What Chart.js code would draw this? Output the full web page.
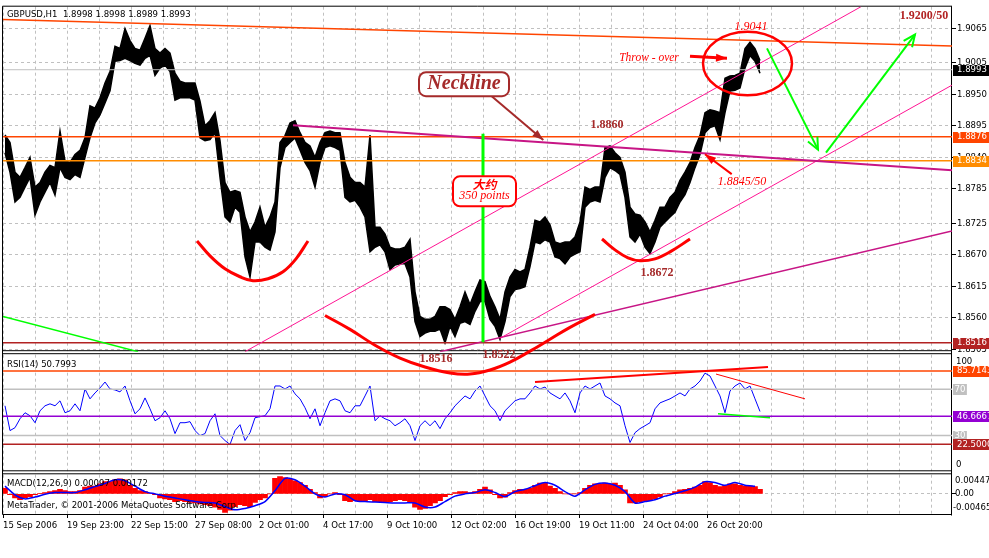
<!DOCTYPE html>
<html>
<head>
<meta charset="utf-8">
<script src="https://cdn.jsdelivr.net/npm/chart.js@4.4.0/dist/chart.umd.min.js"></script>
<style>
  html, body { margin: 0; padding: 0; background: #fff; }
  canvas { display: block; }
</style>
</head>
<body>
<canvas id="chart" width="989" height="558"></canvas>
<script>
'use strict';

// ── Data (GBPUSD H1, sampled every 5 bars) ────────────────────────────────────

const BAR_STEP = 5;
const FIRST_BAR = 2;

const priceHigh = [
  1.8879, 1.8866, 1.8814, 1.8805, 1.8822, 1.8840, 1.8788, 1.8796, 1.8814, 1.8826,
  1.8822, 1.8886, 1.8834, 1.8831, 1.8845, 1.8852, 1.8874, 1.8930, 1.8926, 1.8944,
  1.8970, 1.8990, 1.9034, 1.9030, 1.9065, 1.9044, 1.9030, 1.9027, 1.9048, 1.9070,
  1.9030, 1.9022, 1.9030, 1.9022, 1.8987, 1.8973, 1.8970, 1.8970, 1.8970, 1.8938,
  1.8895, 1.8904, 1.8918, 1.8869, 1.8796, 1.8779, 1.8782, 1.8779, 1.8736, 1.8710,
  1.8727, 1.8753, 1.8718, 1.8736, 1.8762, 1.8866, 1.8878, 1.8900, 1.8904, 1.8883,
  1.8866, 1.8860, 1.8840, 1.8866, 1.8883, 1.8886, 1.8883, 1.8883, 1.8831, 1.8805,
  1.8796, 1.8796, 1.8788, 1.8879, 1.8718, 1.8718, 1.8706, 1.8683, 1.8680, 1.8680,
  1.8683, 1.8697, 1.8605, 1.8562, 1.8557, 1.8557, 1.8562, 1.8579, 1.8579, 1.8574,
  1.8557, 1.8579, 1.8605, 1.8583, 1.8605, 1.8626, 1.8623, 1.8597, 1.8579, 1.8557,
  1.8605, 1.8631, 1.8644, 1.8640, 1.8644, 1.8683, 1.8730, 1.8727, 1.8736, 1.8722,
  1.8692, 1.8689, 1.8692, 1.8692, 1.8701, 1.8727, 1.8788, 1.8784, 1.8788, 1.8788,
  1.8857, 1.8860, 1.8848, 1.8840, 1.8814, 1.8753, 1.8741, 1.8739, 1.8727, 1.8710,
  1.8730, 1.8753, 1.8753, 1.8770, 1.8779, 1.8800, 1.8814, 1.8831, 1.8857, 1.8878,
  1.8918, 1.8923, 1.8921, 1.8918, 1.8978, 1.8982, 1.8983, 1.8987, 1.9030, 1.9041,
  1.9030, 1.9009,
];

const priceLow = [
  1.8848, 1.8814, 1.8762, 1.8770, 1.8788, 1.8805, 1.8739, 1.8762, 1.8779, 1.8796,
  1.8774, 1.8822, 1.8805, 1.8801, 1.8810, 1.8805, 1.8840, 1.8874, 1.8900, 1.8914,
  1.8935, 1.8956, 1.9008, 1.9009, 1.9013, 1.9009, 1.9004, 1.9001, 1.9013, 1.9018,
  1.8983, 1.8996, 1.9001, 1.8990, 1.8940, 1.8944, 1.8944, 1.8944, 1.8940, 1.8874,
  1.8869, 1.8871, 1.8883, 1.8805, 1.8736, 1.8727, 1.8753, 1.8744, 1.8666, 1.8631,
  1.8692, 1.8692, 1.8683, 1.8678, 1.8710, 1.8822, 1.8857, 1.8866, 1.8874, 1.8853,
  1.8831, 1.8817, 1.8788, 1.8831, 1.8857, 1.8860, 1.8857, 1.8852, 1.8770, 1.8762,
  1.8765, 1.8753, 1.8736, 1.8675, 1.8683, 1.8687, 1.8675, 1.8644, 1.8652, 1.8654,
  1.8654, 1.8631, 1.8553, 1.8527, 1.8533, 1.8536, 1.8536, 1.8540, 1.8516, 1.8545,
  1.8527, 1.8550, 1.8553, 1.8548, 1.8571, 1.8588, 1.8588, 1.8557, 1.8545, 1.8522,
  1.8553, 1.8597, 1.8609, 1.8611, 1.8614, 1.8649, 1.8692, 1.8689, 1.8696, 1.8692,
  1.8666, 1.8663, 1.8654, 1.8666, 1.8671, 1.8675, 1.8753, 1.8762, 1.8765, 1.8762,
  1.8805, 1.8822, 1.8817, 1.8810, 1.8770, 1.8701, 1.8692, 1.8706, 1.8683, 1.8672,
  1.8692, 1.8718, 1.8727, 1.8736, 1.8744, 1.8762, 1.8775, 1.8796, 1.8822, 1.8845,
  1.8883, 1.8892, 1.8895, 1.8871, 1.8918, 1.8956, 1.8957, 1.8961, 1.8996, 1.9018,
  1.9008, 1.8987,
];

const rsiValues = [
  55.7, 34.3, 36.8, 44.5, 49.7, 47.1, 41.1, 51.4, 55.7, 57.4,
  55.7, 60.0, 49.7, 51.4, 57.4, 51.4, 70.2, 61.7, 66.8, 71.1,
  76.2, 70.2, 69.4, 67.7, 72.8, 60.0, 48.8, 53.1, 62.5, 53.1,
  42.8, 45.4, 51.4, 44.5, 31.7, 41.1, 41.1, 42.0, 34.3, 30.0,
  31.7, 42.8, 48.8, 30.0, 25.7, 22.3, 34.3, 39.4, 25.7, 32.5,
  45.4, 46.3, 47.1, 53.1, 72.8, 72.8, 70.2, 72.8, 66.0, 61.7,
  54.0, 44.5, 53.1, 38.5, 49.7, 60.0, 61.7, 60.0, 51.4, 49.7,
  55.7, 55.7, 64.2, 72.8, 42.8, 47.1, 44.5, 42.8, 38.5, 41.1,
  44.5, 38.5, 25.7, 38.5, 42.8, 38.5, 42.8, 36.0, 44.5, 49.7,
  55.7, 60.0, 64.2, 61.7, 68.5, 72.8, 64.2, 55.7, 51.4, 42.8,
  51.4, 55.7, 60.0, 61.7, 61.7, 66.8, 72.8, 70.2, 71.9, 66.8,
  64.2, 61.7, 66.8, 60.0, 49.7, 66.8, 72.8, 70.2, 72.8, 75.4,
  64.2, 61.7, 58.2, 55.7, 38.5, 24.0, 32.5, 36.0, 38.5, 41.1,
  53.1, 58.2, 60.0, 61.7, 64.2, 66.8, 64.2, 70.2, 72.8, 77.1,
  83.9, 81.4, 72.8, 64.2, 49.7, 68.5, 72.8, 75.4, 70.2, 72.8,
  61.7, 50.8,
];

const macdHist = [
  0.0012, -0.0002, -0.0009, -0.0013, -0.0009, -0.0006, -0.0002, 0.0001, 0.0003, 0.0005,
  0.0007, 0.0010, 0.0007, 0.0005, 0.0005, 0.0007, 0.0015, 0.0017, 0.0017, 0.0022,
  0.0027, 0.0027, 0.0031, 0.0033, 0.0031, 0.0019, 0.0012, 0.0007, 0.0005, 0.0001,
  -0.0002, -0.0009, -0.0011, -0.0013, -0.0017, -0.0015, -0.0017, -0.0019, -0.0020, -0.0022,
  -0.0024, -0.0026, -0.0029, -0.0034, -0.0041, -0.0036, -0.0028, -0.0024, -0.0026, -0.0028,
  -0.0019, -0.0013, -0.0009, 0, 0.0034, 0.0038, 0.0036, 0.0032, 0.0029, 0.0025,
  0.0019, 0.0010, 0.0003, -0.0009, -0.0006, 0, 0.0003, -0.0002, -0.0015, -0.0017,
  -0.0015, -0.0017, -0.0017, -0.0013, -0.0017, -0.0017, -0.0017, -0.0017, -0.0015, -0.0013,
  -0.0015, -0.0017, -0.0029, -0.0034, -0.0032, -0.0026, -0.0020, -0.0015, -0.0006, -0.0002,
  0.0003, 0.0005, 0.0005, 0.0003, 0.0005, 0.0010, 0.0015, 0.0009, -0.0002, -0.0009,
  -0.0007, 0.0003, 0.0007, 0.0010, 0.0010, 0.0012, 0.0019, 0.0024, 0.0024, 0.0017,
  0.0012, 0.0005, 0, 0, 0, 0.0003, 0.0012, 0.0019, 0.0022, 0.0022,
  0.0024, 0.0022, 0.0024, 0.0019, 0.0009, -0.0020, -0.0020, -0.0017, -0.0015, -0.0015,
  -0.0011, -0.0006, 0, 0.0001, 0.0005, 0.0009, 0.0010, 0.0012, 0.0015, 0.0019,
  0.0027, 0.0025, 0.0019, 0.0016, 0.0019, 0.0022, 0.0022, 0.0019, 0.0017, 0.0017,
  0.0016, 0.0010,
];

// signal line, one value every 10 bars
const SIGNAL_STEP = 10;
const macdSignal = [
  0.0017, -0.0002, -0.0011, -0.0007, -0.0001, 0.0003, 0.0003, 0.0003, 0.0009, 0.0016,
  0.0023, 0.0031, 0.0029, 0.0017, 0.0005, 0, -0.0005, -0.0009, -0.0013, -0.0017,
  -0.0019, -0.0020, -0.0028, -0.0035, -0.0032, -0.0026, -0.0017, 0.0007, 0.0034, 0.0031,
  0.0017, 0, -0.0007, 0, -0.0002, -0.0015, -0.0017, -0.0018, -0.0019, -0.0020,
  -0.0020, -0.0020, -0.0029, -0.0029, -0.0017, -0.0005, 0, 0.0003, 0.0009, 0.0003,
  -0.0006, 0.0005, 0.0010, 0.0018, 0.0025, 0.0019, 0.0005, -0.0005, 0.0009, 0.0021,
  0.0024, 0.0019, 0.0005, -0.0020, -0.0017, -0.0013, -0.0005, 0.0001, 0.0007, 0.0015,
  0.0027, 0.0025, 0.0019, 0.0025, 0.0019, 0.0017,
];

const priceTicks = [1.9065, 1.9005, 1.8950, 1.8895, 1.8840, 1.8785, 1.8725, 1.8670, 1.8615, 1.8560, 1.8505];
const timeLabels = [
  '15 Sep 2006', '19 Sep 23:00', '22 Sep 15:00', '27 Sep 08:00', '2 Oct 01:00', '4 Oct 17:00',
  '9 Oct 10:00', '12 Oct 02:00', '16 Oct 19:00', '19 Oct 11:00', '24 Oct 04:00', '26 Oct 20:00',
];
const GRID_BARS = 32;
const LABEL_BARS = 64;
const LAST_BAR = 949;

const priceLevels = [1.8993, 1.8876, 1.8834, 1.8516];
const priceLevelColors = ['#c0c0c0', '#ff4500', '#ff8c00', '#b22222'];
const priceTagColors = ['#000000', '#ff4500', '#ff8c00', '#b22222'];

const rsiLevels = [85.7143, 70, 46.6667, 30, 22.5];
const rsiLevelColors = ['#ff4500', '#c0c0c0', '#9400d3', '#c0c0c0', '#b22222'];
const rsiLevelText = ['85.7143', '70', '46.6667', '30', '22.5000'];

// ── Drawn objects (bar index, price) ─────────────────────────────────────────

const trendLines = [
  { pts: [[0, 1.90806], [949, 1.90346]], color: '#ff4500', width: 1.5 },
  { pts: [[290, 1.88960], [949, 1.88175]], color: '#c71585', width: 2 },
  { pts: [[242, 1.85005], [858, 1.91031]], color: '#ff1493', width: 1 },
  { pts: [[497, 1.85239], [949, 1.89661]], color: '#ff1493', width: 1 },
  { pts: [[437, 1.85005], [949, 1.87112]], color: '#c71585', width: 1.5 },
  { pts: [[0, 1.85621], [135, 1.85005]], color: '#00ff00', width: 1.5 },
];

const arrows = [
  { pts: [[687, 1.90164], [724, 1.90129]], color: '#ff0000', width: 3, head: 'solid' },
  { pts: [[728.7, 1.88106], [702, 1.88453]], color: '#ff0000', width: 2, head: 'solid' },
  { pts: [[488.7, 1.89465], [540.3, 1.88702]], color: '#a52a2a', width: 2, head: 'solid' },
  { pts: [[764, 1.90303], [815, 1.88534]], color: '#00ff00', width: 2, head: 'open' },
  { pts: [[823, 1.88482], [912, 1.90545]], color: '#00ff00', width: 2, head: 'open' },
  { pts: [[480, 1.88812], [480, 1.85170]], color: '#00ff00', width: 3, head: 'none' },
];

const leftShoulder = [
  [194, 1.86939], [207, 1.86679], [222, 1.86453], [237, 1.86314], [250, 1.86245],
  [265, 1.86280], [280, 1.86401], [293, 1.86627], [305, 1.86939],
];
const headArc = [
  [322, 1.85638], [347, 1.85395], [372, 1.85118], [397, 1.84893], [422, 1.84737],
  [447, 1.84633], [467, 1.84615], [487, 1.84685], [507, 1.84823], [527, 1.85014],
  [547, 1.85222], [567, 1.85430], [592, 1.85656],
];
const rightShoulder = [
  [599, 1.86973], [612, 1.86783], [625, 1.86644], [637, 1.86592], [652, 1.86627],
  [667, 1.86748], [687, 1.86973],
];

const rsiLines = [
  { pts: [[532, 76.2], [765, 89.1]], color: '#ff0000', width: 2 },
  { pts: [[713, 83.1], [802, 61.7]], color: '#ff0000', width: 1 },
  { pts: [[715, 48.8], [767, 45.4]], color: '#00ff00', width: 1.5 },
];

const throwOverRing = { at: [744.5, 1.9004], rx: 44.5, ry: 0.00555 };

const SANS = "'DejaVu Sans Condensed', 'DejaVu Sans', sans-serif";
const SANS_SIZE = 9.5;
const SERIF = "'Liberation Serif', 'DejaVu Serif', serif";
const CJK = "'Noto Sans CJK SC', sans-serif";

const notes = [
  { text: '1.8860', at: [604, 1.8897], font: `bold 12px ${SERIF}`, color: '#a52a2a' },
  { text: '1.8516', at: [433, 1.84875], font: `bold 12px ${SERIF}`, color: '#a52a2a' },
  { text: '1.8522', at: [496, 1.84945], font: `bold 12px ${SERIF}`, color: '#a52a2a' },
  { text: '1.8672', at: [654, 1.86384], font: `bold 12px ${SERIF}`, color: '#a52a2a' },
  { text: '1.9200/50', at: [921, 1.90875], font: `bold 12px ${SERIF}`, color: '#b22222' },
  { text: '1.9041', at: [748, 1.90684], font: `italic 12px ${SERIF}`, color: '#ff0000' },
  { text: 'Throw - over', at: [646, 1.90129], font: `italic 11.5px ${SERIF}`, color: '#ff0000' },
  { text: '1.8845/50', at: [739, 1.87979], font: `italic 12px ${SERIF}`, color: '#ff0000' },
];

const callouts = [
  { at: [461, 1.89678], w: 90, h: 24, color: '#a52a2a',
    lines: [{ text: 'Neckline', dy: 0, font: `italic bold 20px ${SERIF}` }] },
  { at: [481.5, 1.87806], w: 63, h: 30, color: '#ff0000',
    lines: [{ text: '大约', dy: -7, font: `italic bold 12px ${CJK}` },
            { text: '350 points', dy: 5, font: `italic 12px ${SERIF}` }] },
];

// ── Datasets ─────────────────────────────────────────────────────────────────

const GRID = '#c0c0c0';
const barAt = k => FIRST_BAR + k * BAR_STEP;
const toXY = pts => pts.map(([x, y]) => ({ x, y }));

function lineSet(pts, color, width, axis, order, extra) {
  return Object.assign({
    type: 'line',
    data: toXY(pts),
    yAxisID: axis,
    borderColor: color,
    borderWidth: width,
    pointRadius: 0,
    fill: false,
    tension: 0,
    order,
  }, extra || {});
}

const datasets = [];

trendLines.forEach(t => datasets.push(lineSet(t.pts, t.color, t.width, 'y', 3)));
arrows.forEach(a => datasets.push(lineSet(a.pts, a.color, a.width, 'y', 2, { arrowHead: a.head })));
[leftShoulder, headArc, rightShoulder].forEach(arc =>
  datasets.push(lineSet(arc, '#ff0000', 3, 'y', 1, { tension: 0.4, clip: false })));
priceLevels.forEach((v, i) =>
  datasets.push(lineSet([[0, v], [LAST_BAR, v]], priceLevelColors[i], i === 0 ? 1 : 1.5, 'y', 4)));

// price: band between the sampled highs and lows
datasets.push(lineSet(priceHigh.map((h, k) => [barAt(k), h]), '#000', 1.5, 'y', 10));
datasets.push(lineSet(priceLow.map((l, k) => [barAt(k), l]), '#000', 1.5, 'y', 10,
  { fill: '-1', backgroundColor: '#000' }));

rsiLines.forEach(t => datasets.push(lineSet(t.pts, t.color, t.width, 'yRsi', 3)));
rsiLevels.forEach((v, i) =>
  datasets.push(lineSet([[0, v], [LAST_BAR, v]], rsiLevelColors[i], 1.5, 'yRsi', 5)));
datasets.push(lineSet(rsiValues.map((v, k) => [barAt(k), v]), '#0000ff', 1, 'yRsi', 6));

datasets.push(lineSet(macdSignal.map((v, k) => [FIRST_BAR + k * SIGNAL_STEP, v]), '#0000ff', 1.5, 'yMacd', 6,
  { tension: 0.25 }));
datasets.push({
  type: 'bar',
  data: macdHist.map((v, k) => ({ x: barAt(k), y: v })),
  yAxisID: 'yMacd',
  backgroundColor: '#ff0000',
  barThickness: BAR_STEP,
  grouped: false,
  borderWidth: 0,
  order: 10,
});

// ── Plugin: pane frames, drawn objects, tags ────────────────────────────────

function labelFor(v) {
  if (v % LABEL_BARS !== 0) return '';
  return timeLabels[v / LABEL_BARS] || '';
}

function drawArrowHead(ctx, a, b, kind, color, width) {
  const ang = Math.atan2(b.y - a.y, b.x - a.x);
  ctx.save();
  ctx.strokeStyle = color;
  ctx.fillStyle = color;
  ctx.lineWidth = width;
  if (kind === 'solid') {
    const len = 11, half = 4;
    ctx.beginPath();
    ctx.moveTo(b.x, b.y);
    ctx.lineTo(b.x - len * Math.cos(ang) + half * Math.sin(ang), b.y - len * Math.sin(ang) - half * Math.cos(ang));
    ctx.lineTo(b.x - len * Math.cos(ang) - half * Math.sin(ang), b.y - len * Math.sin(ang) + half * Math.cos(ang));
    ctx.closePath();
    ctx.fill();
  } else {
    const len = 13, spread = 0.42;
    ctx.beginPath();
    ctx.moveTo(b.x - len * Math.cos(ang - spread), b.y - len * Math.sin(ang - spread));
    ctx.lineTo(b.x, b.y);
    ctx.lineTo(b.x - len * Math.cos(ang + spread), b.y - len * Math.sin(ang + spread));
    ctx.stroke();
  }
  ctx.restore();
}

function roundRect(ctx, x, y, w, h, r) {
  ctx.beginPath();
  ctx.moveTo(x + r, y);
  ctx.arcTo(x + w, y, x + w, y + h, r);
  ctx.arcTo(x + w, y + h, x, y + h, r);
  ctx.arcTo(x, y + h, x, y, r);
  ctx.arcTo(x, y, x + w, y, r);
  ctx.closePath();
}

function tag(ctx, text, yPix, bg, fg, full) {
  ctx.font = `${SANS_SIZE}px ${SANS}`;
  const w = full ? 36 : ctx.measureText(text).width + 3;
  ctx.fillStyle = bg;
  ctx.fillRect(953, Math.round(yPix) - 5, w, 11);
  ctx.fillStyle = fg;
  ctx.fillText(text, full ? 957 : 954.5, yPix);
}

const mtPanes = {
  id: 'mtPanes',
  beforeDatasetsDraw(chart) {
    const { ctx, chartArea: a, scales } = chart;
    const rules = [
      a.top - 0.5,
      scales.y.bottom - 1,
      scales.yRsi.top + 2,
      scales.yRsi.bottom - 1.5,
      scales.yMacd.top + 1.5,
      a.bottom - 0.5,
    ];
    const L = a.left - 0.5, R = a.right - 0.5;
    ctx.save();
    ctx.fillStyle = '#fff';
    ctx.fillRect(a.left, rules[1] + 0.5, R - a.left, rules[2] - rules[1] - 1);
    ctx.fillRect(a.left, rules[3] + 0.5, R - a.left, rules[4] - rules[3] - 1);
    ctx.strokeStyle = '#000';
    ctx.lineWidth = 1;
    ctx.beginPath();
    rules.forEach(y => { ctx.moveTo(L, y); ctx.lineTo(R + 0.5, y); });
    ctx.moveTo(L, a.top - 0.5); ctx.lineTo(L, a.bottom - 0.5);
    ctx.moveTo(R, a.top - 0.5); ctx.lineTo(R, a.bottom + 0.5);
    ctx.stroke();
    ctx.restore();
  },
  afterDatasetsDraw(chart) {
    const { ctx, scales } = chart;
    const x = scales.x, y = scales.y;

    chart.data.datasets.forEach((ds, i) => {
      if (!ds.arrowHead || ds.arrowHead === 'none') return;
      const pts = chart.getDatasetMeta(i).data;
      drawArrowHead(ctx, pts[pts.length - 2], pts[pts.length - 1], ds.arrowHead, ds.borderColor, 2);
    });

    // ring round the throw-over
    const cx = x.getPixelForValue(throwOverRing.at[0]);
    const cy = y.getPixelForValue(throwOverRing.at[1]);
    const rx = x.getPixelForValue(throwOverRing.at[0] + throwOverRing.rx) - cx;
    const ry = cy - y.getPixelForValue(throwOverRing.at[1] + throwOverRing.ry);
    ctx.save();
    ctx.strokeStyle = '#ff0000';
    ctx.lineWidth = 2.5;
    ctx.beginPath();
    ctx.ellipse(cx, cy, rx, ry, 0, 0, Math.PI * 2);
    ctx.stroke();

    ctx.textAlign = 'center';
    ctx.textBaseline = 'middle';
    callouts.forEach(c => {
      const px = x.getPixelForValue(c.at[0]);
      const py = y.getPixelForValue(c.at[1]);
      roundRect(ctx, px - c.w / 2, py - c.h / 2, c.w, c.h, 7);
      ctx.fillStyle = '#fff';
      ctx.fill();
      ctx.strokeStyle = c.color;
      ctx.lineWidth = 2;
      ctx.stroke();
      ctx.fillStyle = c.color;
      c.lines.forEach(l => {
        ctx.font = l.font;
        ctx.fillText(l.text, px, py + l.dy);
      });
    });

    notes.forEach(n => {
      ctx.font = n.font;
      ctx.fillStyle = n.color;
      ctx.fillText(n.text, x.getPixelForValue(n.at[0]), y.getPixelForValue(n.at[1]));
    });
    ctx.restore();
  },
  afterDraw(chart) {
    const { ctx, scales } = chart;
    const y = scales.y, yR = scales.yRsi, yM = scales.yMacd;
    ctx.save();
    ctx.textAlign = 'left';
    ctx.textBaseline = 'middle';
    ctx.font = `${SANS_SIZE}px ${SANS}`;
    ctx.fillStyle = '#000';
    ctx.fillText('GBPUSD,H1  1.8998 1.8998 1.8989 1.8993', 7, y.top + 8);
    ctx.fillText('RSI(14) 50.7993', 7, yR.top + 13);
    ctx.fillText('MACD(12,26,9) 0.00097 0.00172', 7, yM.top + 11);
    ctx.fillText('MetaTrader, © 2001-2006 MetaQuotes Software Corp.', 7, yM.bottom - 9);

    // RSI / MACD scale captions
    ctx.fillText('100', 956, yR.getPixelForValue(100) + 7);
    ctx.fillText('0', 956, yR.getPixelForValue(0) - 6);
    ctx.fillText('0.00447', 955, yM.getPixelForValue(0.00447) + 7);
    ctx.fillText('0.00', 955, yM.getPixelForValue(0));
    ctx.fillText('-0.00465', 953, yM.getPixelForValue(-0.00465) - 7);

    priceLevels.forEach((v, i) => tag(ctx, v.toFixed(4), y.getPixelForValue(v), priceTagColors[i], '#fff', true));
    rsiLevels.forEach((v, i) => {
      const small = rsiLevelText[i].length < 3;
      tag(ctx, rsiLevelText[i], yR.getPixelForValue(v), rsiLevelColors[i], '#fff', !small);
    });
    ctx.restore();
  },
};

// ── Chart ───────────────────────────────────────────────────────────────────

const axisFont = { family: SANS, size: SANS_SIZE };
const fixWidth = s => { s.width = 37; };

new Chart(document.getElementById('chart'), {
  type: 'line',
  data: { datasets },
  options: {
    responsive: false,
    animation: false,
    events: [],
    layout: { padding: { left: 3, top: 3, right: 0, bottom: 0 } },
    plugins: { legend: { display: false }, tooltip: { enabled: false } },
    scales: {
      x: {
        type: 'linear',
        min: 0,
        max: LAST_BAR,
        offset: false,
        afterBuildTicks: s => {
          const t = [];
          for (let v = 0; v <= LAST_BAR; v += GRID_BARS) t.push({ value: v });
          s.ticks = t;
        },
        afterFit: s => { s.height = 43; },
        grid: {
          color: GRID,
          offset: false,
          tickLength: 3,
          tickColor: c => (c.tick && labelFor(c.tick.value) ? '#000' : 'rgba(0,0,0,0)'),
        },
        border: { display: false, dash: [3, 3] },
        ticks: {
          align: 'start',
          autoSkip: false,
          maxRotation: 0,
          minRotation: 0,
          padding: 2,
          color: '#000',
          font: axisFont,
          callback: v => labelFor(v),
        },
      },
      y: {
        type: 'linear',
        position: 'right',
        stack: 'panes',
        stackWeight: 347.5,
        min: 1.85005,
        max: 1.91031,
        afterBuildTicks: s => { s.ticks = priceTicks.map(v => ({ value: v })); },
        afterFit: fixWidth,
        grid: { color: GRID, tickLength: 4, tickColor: '#000' },
        border: { display: false, dash: [3, 3] },
        ticks: { padding: 1, color: '#000', font: axisFont, callback: v => v.toFixed(4) },
      },
      yRsi: {
        type: 'linear',
        position: 'right',
        stack: 'panes',
        stackWeight: 121.5,
        min: -1.71,
        max: 102.4,
        afterFit: fixWidth,
        grid: { display: false },
        border: { display: false },
        ticks: { display: false },
      },
      yMacd: {
        type: 'linear',
        position: 'right',
        stack: 'panes',
        stackWeight: 43,
        min: -0.00465,
        max: 0.00475,
        afterBuildTicks: s => { s.ticks = [{ value: 0 }]; },
        afterFit: fixWidth,
        grid: { color: GRID, tickLength: 4, tickColor: '#000' },
        border: { display: false, dash: [3, 3] },
        ticks: { display: false },
      },
    },
  },
  plugins: [mtPanes],
});
</script>
</body>
</html>
